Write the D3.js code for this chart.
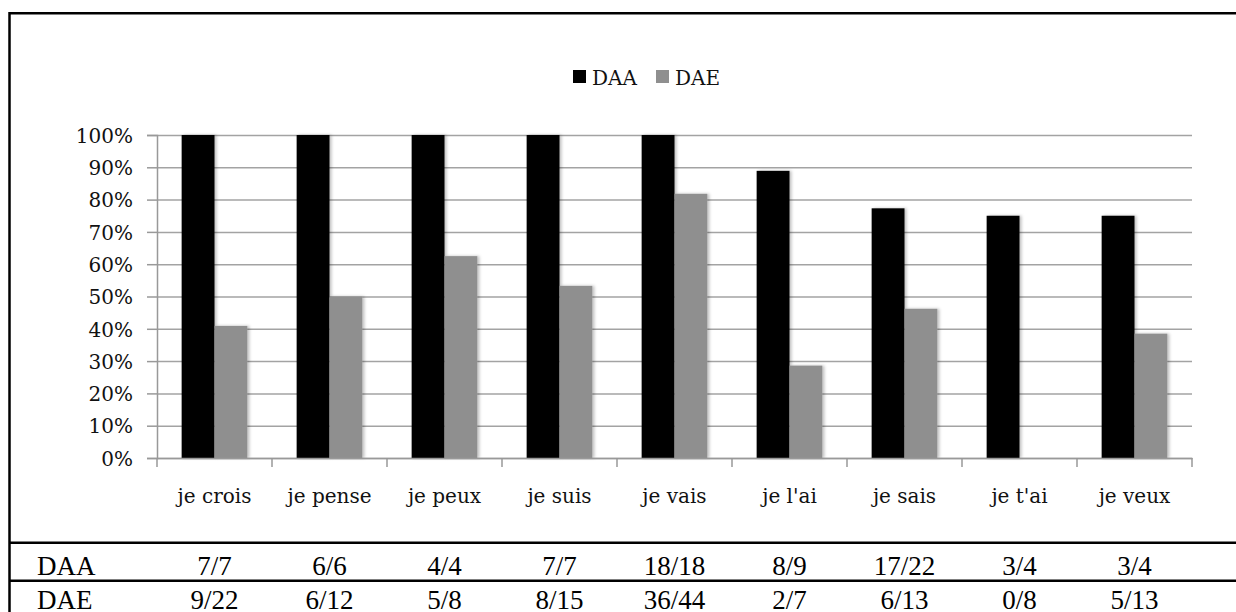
<!DOCTYPE html>
<html>
<head>
<meta charset="utf-8">
<script src="https://cdn.jsdelivr.net/npm/d3@7"></script>
<style>
  html, body { margin: 0; padding: 0; background: #fff; }
  svg { display: block; }
</style>
</head>
<body>
<svg id="chart" width="1236" height="612"></svg>
<script>
// ---- data ----
const categories = ["je crois", "je pense", "je peux", "je suis", "je vais", "je l'ai", "je sais", "je t'ai", "je veux"];
const seriesNames = ["DAA", "DAE"];
const daaCounts = ["7/7", "6/6", "4/4", "7/7", "18/18", "8/9", "17/22", "3/4", "3/4"];
const daeCounts = ["9/22", "6/12", "5/8", "8/15", "36/44", "2/7", "6/13", "0/8", "5/13"];
const daaValues = [100, 100, 100, 100, 100, 88.9, 77.3, 75, 75];
const daeValues = [40.9, 50, 62.5, 53.3, 81.8, 28.6, 46.2, 0, 38.5];
const yTicks = [0, 10, 20, 30, 40, 50, 60, 70, 80, 90, 100];
const seriesColors = ["#000000", "#8f8f8f"];

// ---- layout ----
const svg = d3.select("#chart");
const W = 1236, H = 612;
const plot = { left: 157, right: 1192, top: 135, bottom: 458 };
const chartFont = "'DejaVu Serif', serif";
const tableFont = "'Liberation Serif', 'Times New Roman', serif";

svg.append("rect").attr("width", W).attr("height", H).attr("fill", "#fff");

const defs = svg.append("defs");
const f = defs.append("filter").attr("id", "shadow").attr("x", "-20%").attr("y", "-5%").attr("width", "160%").attr("height", "110%");
f.append("feDropShadow").attr("dx", 2).attr("dy", 0).attr("stdDeviation", 1.5)
  .attr("flood-color", "#000").attr("flood-opacity", 0.25);

const x0 = d3.scaleBand().domain(categories).range([plot.left, plot.right]).padding(0);
const bw = x0.bandwidth();
const barW = bw / 3.5;
const x1 = d3.scaleBand().domain(seriesNames).range([bw / 2 - barW, bw / 2 + barW]).padding(0);
const y = d3.scaleLinear().domain([0, 100]).range([plot.bottom, plot.top]);

// gridlines
const grid = svg.append("g").attr("transform", `translate(${plot.left},0)`)
  .call(d3.axisLeft(y).tickValues(yTicks).tickSize(-(plot.right - plot.left)).tickFormat(""));
grid.select(".domain").remove();
grid.selectAll(".tick line").attr("stroke", "#a3a3a3").attr("stroke-width", 1.5);

// y axis
const yAxis = svg.append("g").attr("transform", `translate(${plot.left},0)`)
  .call(d3.axisLeft(y).tickValues(yTicks).tickSize(10).tickPadding(14).tickFormat(d => d + "%"));
yAxis.select(".domain").attr("stroke", "#999").attr("stroke-width", 1.5);
yAxis.selectAll(".tick line").attr("stroke", "#999").attr("stroke-width", 1.5);
yAxis.selectAll("text").attr("font-family", chartFont).attr("font-size", 20).attr("fill", "#111").attr("dy", "0.36em");

// bars
const data = categories.map((c, i) => ({ cat: c, vals: [daaValues[i], daeValues[i]] }));
const groups = svg.append("g").selectAll("g").data(data).join("g")
  .attr("transform", d => `translate(${x0(d.cat)},0)`);
groups.selectAll("rect").data(d => d.vals.map((v, j) => ({ s: seriesNames[j], v, j })))
  .join("rect")
  .attr("x", d => x1(d.s))
  .attr("width", x1.bandwidth())
  .attr("y", d => y(d.v))
  .attr("height", d => y(0) - y(d.v))
  .attr("fill", d => seriesColors[d.j])
  .attr("filter", d => d.v > 0 ? "url(#shadow)" : null);

// x axis
const xAxis = svg.append("g").attr("transform", `translate(0,${plot.bottom})`)
  .call(d3.axisBottom(x0).tickSize(0).tickPadding(31));
xAxis.select(".domain").attr("stroke", "#999").attr("stroke-width", 1.5);
xAxis.selectAll("text").attr("font-family", chartFont).attr("font-size", 20).attr("fill", "#111");
// boundary ticks
const bounds = categories.map(c => x0(c)).concat([plot.right]);
xAxis.selectAll(".bt").data(bounds).join("line").attr("class", "bt")
  .attr("x1", d => d).attr("x2", d => d).attr("y1", 0).attr("y2", 9)
  .attr("stroke", "#999").attr("stroke-width", 1.5);

// legend
const legend = svg.append("g").attr("transform", "translate(573,70)");
const legItems = [{ name: "DAA", x: 0 }, { name: "DAE", x: 83 }];
legItems.forEach((it, i) => {
  legend.append("rect").attr("x", it.x).attr("y", 0).attr("width", 13).attr("height", 13).attr("fill", seriesColors[i]);
  legend.append("text").attr("x", it.x + 19).attr("y", 14.5).text(it.name)
    .attr("font-family", chartFont).attr("font-size", 20).attr("fill", "#111");
});

// frame
svg.append("path").attr("d", `M9.5,${H} L9.5,13.3 L${W + 5},13.3`)
  .attr("fill", "none").attr("stroke", "#000").attr("stroke-width", 2.5);

// table lines
const rowLines = [542.7, 580.7];
svg.selectAll(".rl").data(rowLines).join("line").attr("class", "rl")
  .attr("x1", 9.5).attr("x2", W).attr("y1", d => d).attr("y2", d => d)
  .attr("stroke", "#000").attr("stroke-width", 2.5);

// table text
const rows = [{ label: "DAA", vals: daaCounts, yb: 575 }, { label: "DAE", vals: daeCounts, yb: 609 }];
rows.forEach(r => {
  svg.append("text").attr("x", 37).attr("y", r.yb).text(r.label)
    .attr("font-family", tableFont).attr("font-size", 27).attr("fill", "#000");
  svg.append("g").selectAll("text").data(categories).join("text")
    .attr("x", c => x0(c) + bw / 2).attr("y", r.yb).attr("text-anchor", "middle")
    .text((c, i) => r.vals[i])
    .attr("font-family", tableFont).attr("font-size", 27).attr("fill", "#000");
});
</script>
</body>
</html>
